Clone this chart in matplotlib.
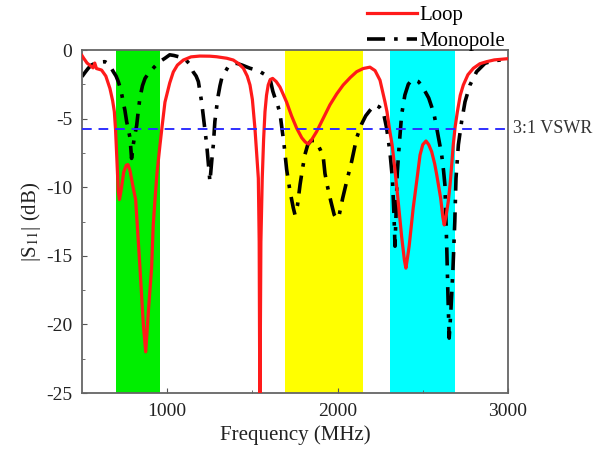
import numpy as np
import matplotlib
matplotlib.use('Agg')
import matplotlib.pyplot as plt

plt.rcParams['font.family'] = ['Liberation Serif', 'DejaVu Serif']
plt.rcParams['mathtext.fontset'] = 'stix'
plt.rcParams['axes.unicode_minus'] = False

# Loop antenna |S11| (MHz, dB)
loop_f = [500, 510, 530, 550, 565, 575, 585, 615, 640, 664, 680, 690, 697, 705, 713, 720,
          730, 745, 760, 770, 782, 800, 815, 840, 860, 874, 890, 909, 918, 928, 940, 958,
          968, 987, 997, 1015, 1036, 1060, 1095, 1140, 1192, 1250, 1290, 1350, 1388, 1420,
          1447, 1470, 1486, 1500, 1515, 1525, 1535, 1540, 1544, 1550, 1558, 1566, 1574,
          1583, 1593, 1605, 1619, 1640, 1662, 1680, 1701, 1730, 1760, 1790, 1810, 1828,
          1845, 1877, 1915, 1955, 1995, 2033, 2075, 2112, 2150, 2190, 2220, 2249, 2278,
          2290, 2307, 2320, 2337, 2357, 2376, 2392, 2401, 2412, 2420, 2444, 2465, 2484,
          2500, 2519, 2535, 2552, 2570, 2582, 2605, 2618, 2626, 2638, 2650, 2660, 2669,
          2679, 2690, 2703, 2720, 2738, 2765, 2797, 2835, 2875, 2920, 2973, 3000]
loop_db = [-0.4, -0.6, -0.95, -1.15, -1.3, -0.95, -1.35, -1.46, -1.9, -2.8, -3.7, -4.5,
           -5.8, -8.0, -10.3, -10.9, -10.2, -8.9, -8.4, -8.35, -8.8, -10.0, -10.9, -15.8,
           -20.0, -22.0, -19.0, -15.8, -12.8, -11.0, -9.0, -6.9, -5.8, -3.8, -3.3, -2.4,
           -1.6, -1.1, -0.73, -0.5, -0.44, -0.45, -0.49, -0.6, -0.73, -1.0, -1.33, -1.9,
           -2.55, -3.6, -5.7, -7.5, -9.35, -14.0, -27.0, -14.0, -9.35, -6.5, -4.5, -3.3,
           -2.55, -2.15, -2.07, -2.3, -2.7, -3.2, -3.8, -4.8, -5.7, -6.4, -6.7, -6.85,
           -6.6, -5.95, -5.0, -4.0, -3.2, -2.55, -2.0, -1.58, -1.35, -1.25, -1.5, -2.2,
           -3.77, -4.5, -5.95, -6.9, -8.75, -11.2, -13.6, -15.3, -15.9, -15.0, -14.3,
           -11.5, -9.5, -7.65, -6.9, -6.63, -6.9, -7.4, -8.3, -9.1, -10.8, -12.2, -12.75,
           -12.0, -11.0, -9.84, -8.5, -6.9, -5.6, -4.5, -3.3, -2.55, -1.8, -1.33, -1.0,
           -0.85, -0.72, -0.66, -0.63]

# Monopole antenna |S11| (MHz, dB)
mono_f = [500, 520, 537, 555, 576, 600, 635, 660, 684, 700, 713, 728, 742, 752, 762, 772,
          782, 791, 801, 810, 821, 830, 840, 855, 870, 890, 918, 950, 987, 1015, 1040,
          1070, 1104, 1130, 1153, 1170, 1183, 1202, 1216, 1232, 1242, 1251, 1258, 1265,
          1271, 1280, 1290, 1300, 1310, 1320, 1340, 1359, 1385, 1408, 1440, 1486, 1520,
          1545, 1575, 1603, 1620, 1633, 1648, 1662, 1686, 1701, 1721, 1740, 1750, 1765,
          1780, 1795, 1809, 1825, 1845, 1865, 1880, 1900, 1916, 1926, 1940, 1960, 1980,
          1995, 2010, 2030, 2053, 2083, 2112, 2141, 2165, 2190, 2219, 2245, 2268, 2288,
          2307, 2322, 2331, 2337, 2343, 2350, 2362, 2376, 2395, 2415, 2435, 2455, 2474,
          2495, 2513, 2535, 2552, 2568, 2582, 2600, 2611, 2622, 2630, 2640, 2648, 2655,
          2665, 2677, 2688, 2695, 2709, 2728, 2748, 2777, 2816, 2865, 2910, 2953, 3000]
mono_db = [-1.94, -1.6, -1.33, -1.1, -0.97, -0.88, -0.85, -1.05, -1.58, -1.9, -2.3, -2.9,
           -3.77, -4.4, -5.2, -5.8, -6.4, -7.9, -6.9, -6.2, -5.5, -4.5, -3.5, -2.6, -2.07,
           -1.7, -1.33, -0.9, -0.6, -0.35, -0.4, -0.5, -0.65, -1.0, -1.6, -1.9, -2.3,
           -3.77, -5.2, -6.9, -8.3, -9.6, -8.6, -7.6, -6.9, -5.2, -4.2, -3.28, -2.6,
           -2.07, -1.6, -1.2, -1.0, -0.97, -1.1, -1.33, -1.45, -1.58, -1.8, -2.07, -3.0,
           -3.5, -4.0, -4.6, -6.9, -8.7, -10.3, -11.5, -12.0, -11.3, -9.8, -8.6, -7.6,
           -6.9, -6.6, -6.6, -6.8, -7.3, -7.8, -9.0, -9.9, -11.0, -12.0, -12.3, -12.0,
           -10.8, -9.6, -8.1, -6.4, -5.4, -4.8, -4.4, -4.0, -4.15, -4.5, -5.7, -7.4,
           -9.4, -12.0, -14.3, -12.0, -9.0, -6.9, -4.7, -3.28, -2.5, -2.19, -2.2, -2.3,
           -2.6, -3.0, -3.5, -4.13, -4.8, -5.7, -6.9, -7.65, -8.8, -9.84, -14.0, -18.0,
           -21.0, -19.0, -16.0, -12.5, -9.35, -6.9, -5.2, -3.77, -2.55, -1.58, -0.97,
           -0.8, -0.73, -0.68]

# frequency bands (MHz)
bands = [(700, 960), (1690, 2150), (2305, 2690)]
band_colors = ['#00ee00', '#ffff00', '#00ffff']
vswr_level = -5.75

fig = plt.figure(figsize=(6.09, 4.51), dpi=100)
ax = fig.add_axes([0.1346, 0.1286, 0.6995, 0.7605])

for (lo, hi), c in zip(bands, band_colors):
    ax.axvspan(lo, hi, color=c, lw=0, zorder=0)

ax.plot(mono_f, mono_db, color='black', lw=2.6, ls=(0, (5, 2.5, 1, 2.5)), label='Monopole', zorder=2)
ax.plot(loop_f, loop_db, color='#ff1a1a', lw=2.3, label='Loop', zorder=3)
ax.axhline(vswr_level, color='#2f2fff', lw=1.4, ls=(0, (5, 3.5)), zorder=4)
ax.annotate('3:1 VSWR', xy=(1.012, vswr_level), xycoords=('axes fraction', 'data'),
            va='center', ha='left', fontsize=13, color='#333333', annotation_clip=False)

ax.set_xlim(500, 3000)
ax.set_ylim(-25, 0)
ax.set_xticks([1000, 2000, 3000])
ax.set_xticks([1500, 2500], minor=True)
ax.set_yticks([0, -5, -10, -15, -20, -25])
ax.set_yticks(np.arange(-22.5, 0, 5), minor=True)
ax.tick_params(direction='in', labelsize=14, colors='#555555', labelcolor='#222222',
               top=False, right=False, pad=7)
ax.tick_params(which='minor', direction='in', colors='#555555', top=False, right=False)
for s in ax.spines.values():
    s.set_color('#666666')
    s.set_linewidth(1.3)

ax.set_xlabel('Frequency (MHz)', fontsize=15, color='#222222', labelpad=4)
ax.set_ylabel('|S$_{11}$| (dB)', fontsize=15, color='#222222', labelpad=2)

h, l = ax.get_legend_handles_labels()
fig.legend(h[::-1], l[::-1], loc='upper left', bbox_to_anchor=(0.585, 1.01), frameon=False,
           fontsize=15, handlelength=2.4, handletextpad=0.15, labelspacing=0.28, borderpad=0)

plt.savefig('out.png', dpi=100)
